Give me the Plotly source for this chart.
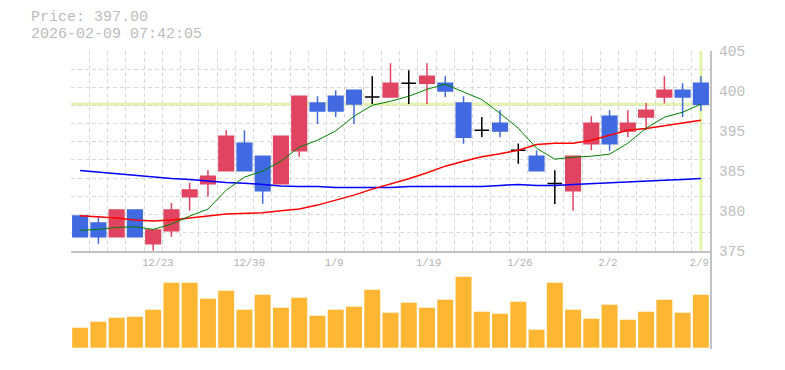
import plotly.graph_objects as go

# ---------------- data ----------------
dates = ["12/17", "12/18", "12/19", "12/22", "12/23", "12/24", "12/25", "12/26", "12/29", "12/30",
         "1/5", "1/6", "1/7", "1/8", "1/9", "1/13", "1/14", "1/15", "1/16", "1/19",
         "1/20", "1/21", "1/22", "1/23", "1/26", "1/27", "1/28", "1/29", "1/30", "2/2",
         "2/3", "2/4", "2/5", "2/6", "2/9"]

opens = [380.2, 379.15, 377.1, 381.1, 376.05, 378.0, 383.1, 385.05, 387.0, 391.15,
         389.2, 385.05, 390.0, 397.2, 398.2, 399.1, 398.1, 398.1, 400.15, 400.15,
         400.15, 397.2, 393.1, 394.15, 390.1, 389.2, 385.1, 384.0, 391.05, 395.2,
         393.0, 395.1, 398.1, 399.1, 400.15]
highs = [380.2, 380.2, 381.1, 381.1, 378.1, 382.15, 385.2, 387.1, 393.1, 393.1,
         389.2, 392.2, 398.2, 398.2, 399.1, 399.1, 401.2, 403.15, 402.1, 403.15,
         401.2, 398.2, 395.1, 396.1, 391.1, 390.1, 387.1, 389.2, 395.2, 396.1,
         396.1, 397.2, 401.2, 400.15, 401.2]
lows = [377.1, 376.05, 377.1, 377.1, 375.0, 377.1, 381.0, 383.1, 387.0, 387.0,
        382.05, 385.05, 389.1, 394.05, 395.1, 394.05, 397.05, 398.1, 397.05, 397.05,
        398.1, 391.05, 392.05, 392.05, 388.05, 387.0, 382.0, 381.0, 390.1, 390.0,
        392.05, 393.1, 397.1, 395.1, 396.0]
closes = [377.1, 377.1, 381.1, 377.1, 378.1, 381.1, 384.1, 386.2, 392.2, 387.0,
          384.0, 392.2, 398.2, 396.0, 396.0, 397.05, 398.1, 400.15, 400.15, 401.2,
          399.0, 392.05, 393.1, 393.0, 390.1, 387.0, 385.1, 389.2, 394.15, 391.05,
          394.15, 396.1, 399.1, 398.1, 397.0]

volume = [20, 26, 30, 31, 38, 65, 65, 49, 57, 38, 53, 40, 50, 32, 38, 41, 58, 35,
          45, 40, 48, 71, 36, 34, 46, 18, 65, 38, 29, 43, 28, 36, 48, 35, 53]

ma_short = [378.05, 378.2, 378.5, 378.6, 378.2, 379.0, 380.2, 381.25, 384.1, 386.05,
            386.95, 388.45, 390.55, 391.6, 393.0, 395.2, 396.85, 397.45, 398.2, 399.25,
            400.0, 398.8, 397.7, 395.65, 393.4, 390.4, 388.75, 389.05, 389.2, 389.5,
            391.15, 393.4, 395.05, 395.8, 397.0]
ma_mid = [380.25, 380.13, 379.9, 379.6, 379.45, 379.6, 379.95, 380.2, 380.5, 380.6,
          380.7, 381.0, 381.25, 381.85, 382.6, 383.35, 384.25, 385.0, 385.8, 386.7,
          387.7, 388.45, 389.1, 389.55, 390.1, 390.95, 391.15, 391.15, 391.6, 392.35,
          393.1, 393.35, 393.75, 394.1, 394.6]
ma_long = [387.06, 386.8, 386.58, 386.35, 386.13, 385.83, 385.68, 385.45, 385.26, 385.15,
           384.93, 384.73, 384.66, 384.66, 384.51, 384.51, 384.51, 384.51, 384.66, 384.66,
           384.66, 384.66, 384.66, 384.81, 384.96, 384.81, 384.81, 384.96, 385.11, 385.2,
           385.3, 385.45, 385.6, 385.7, 385.86]

ytick_vals = [405, 399, 393, 387, 381, 375]
ytick_text = ["405", "400", "395", "385", "380", "375"]
xlabel_dates = ["12/23", "12/30", "1/9", "1/19", "1/26", "2/2", "2/9"]

header_price = "Price: 397.00"
header_time = "2026-02-09 07:42:05"

# ---------------- styling ----------------
MONO = "Liberation Mono"
GRID = "#d9d9d9"
AXLINE = "#c2c2c2"
TXT = "#bcbcbc"
RED = "#e04461"
BLUE = "#4169e1"
HL = "#e3f5a9"

idx = list(range(len(dates)))
n = len(dates)

reg = [i for i in idx if opens[i] != closes[i]]
doji = [i for i in idx if opens[i] == closes[i]]

fig = go.Figure()

# price traces live on the labelled overlay axis y3 (same range as the grid axis y)
fig.add_trace(go.Candlestick(
    x=reg, open=[opens[i] for i in reg], high=[highs[i] for i in reg],
    low=[lows[i] for i in reg], close=[closes[i] for i in reg],
    increasing=dict(line=dict(color=RED, width=1.5), fillcolor=RED),
    decreasing=dict(line=dict(color=BLUE, width=1.5), fillcolor=BLUE),
    xaxis="x", yaxis="y3", hoverinfo="skip", showlegend=False))
fig.add_trace(go.Candlestick(
    x=doji, open=[opens[i] for i in doji], high=[highs[i] for i in doji],
    low=[lows[i] for i in doji], close=[closes[i] for i in doji],
    increasing=dict(line=dict(color="black", width=1.5), fillcolor="black"),
    decreasing=dict(line=dict(color="black", width=1.5), fillcolor="black"),
    xaxis="x", yaxis="y3", hoverinfo="skip", showlegend=False))

fig.add_trace(go.Scatter(x=idx, y=ma_long, mode="lines", line=dict(color="#0000ff", width=1.5),
                         xaxis="x", yaxis="y3", hoverinfo="skip", showlegend=False))
fig.add_trace(go.Scatter(x=idx, y=ma_mid, mode="lines", line=dict(color="#ff0000", width=1.5),
                         xaxis="x", yaxis="y3", hoverinfo="skip", showlegend=False))
fig.add_trace(go.Scatter(x=idx, y=ma_short, mode="lines", line=dict(color="#008000", width=1),
                         xaxis="x", yaxis="y3", hoverinfo="skip", showlegend=False))

# volume on the labelled overlay axis x3
fig.add_trace(go.Bar(x=idx, y=volume, marker=dict(color="#ffb733", line=dict(width=0)),
                     xaxis="x3", yaxis="y2", hoverinfo="skip", showlegend=False))

# current price lines
fig.add_shape(type="line", xref="x domain", x0=0, x1=1, yref="y", y0=closes[-1], y1=closes[-1],
              line=dict(color=HL, width=3), layer="below")
fig.add_shape(type="line", xref="x", x0=idx[-1], x1=idx[-1], yref="y domain", y0=0, y1=1,
              line=dict(color=HL, width=3), layer="below")

split = (349 - 250.7) / 298
xr = [-0.5, n - 0.5]
yr = [375, 405]
dash = "4px,3px"

fig.update_layout(
    width=785, height=370,
    margin=dict(l=71, r=75, t=51, b=21),
    paper_bgcolor="white", plot_bgcolor="white",
    boxgap=0.2, boxgroupgap=0, boxmode="overlay",
    bargap=0.125,
    font=dict(family=MONO, color=TXT),
    xaxis=dict(domain=[0, 1], anchor="y", range=xr, tickmode="linear", tick0=-0.5, dtick=1,
               showticklabels=False, ticks="", showgrid=True, gridcolor=GRID, griddash=dash,
               gridwidth=1, showline=True, linecolor=AXLINE, linewidth=1.5, zeroline=False,
               rangeslider=dict(visible=False), fixedrange=True),
    yaxis=dict(domain=[split, 1], anchor="x", range=yr, tickmode="linear", tick0=375, dtick=30 / 11,
               showticklabels=False, ticks="", showgrid=True, gridcolor=GRID, griddash=dash,
               side="right", showline=True, linecolor=AXLINE, linewidth=1.5, zeroline=False),
    yaxis3=dict(overlaying="y", anchor="x", side="right", range=yr, tickmode="array",
                tickvals=ytick_vals, ticktext=ytick_text, showgrid=False, showline=False,
                zeroline=False, ticks="", tickfont=dict(family=MONO, size=14.5, color=TXT),
                ticklabelstandoff=8),
    xaxis2=dict(domain=[0, 1], anchor="y2", range=xr, tickmode="linear", tick0=-0.5, dtick=1,
                showticklabels=False, ticks="", showgrid=True, gridcolor=GRID, griddash=dash,
                showline=True, linecolor=AXLINE, linewidth=1.5, zeroline=False),
    yaxis2=dict(domain=[0, split], anchor="x2", range=[-1.3, 97], showgrid=False,
                showticklabels=False, ticks="", side="right", showline=True, linecolor=AXLINE,
                linewidth=1.5, zeroline=False),
    xaxis3=dict(overlaying="x2", anchor="y2", side="top", range=xr, tickmode="array",
                tickvals=[dates.index(d) for d in xlabel_dates],
                ticktext=xlabel_dates,
                ticklabelposition="inside right", ticklabelshift=-11, ticklabelstandoff=2,
                showgrid=False, showline=False,
                zeroline=False, ticks="", tickfont=dict(family=MONO, size=10.5, color="#b0b0b0")),
    annotations=[
        dict(text=header_price, xref="paper", yref="paper", x=(29.3 - 71) / 639, y=1 + (51 - 17.3) / 298,
             xanchor="left", yanchor="middle", showarrow=False,
             font=dict(family=MONO, size=15, color=TXT)),
        dict(text=header_time, xref="paper", yref="paper", x=(29.3 - 71) / 639, y=1 + (51 - 34.3) / 298,
             xanchor="left", yanchor="middle", showarrow=False,
             font=dict(family=MONO, size=15, color=TXT)),
    ],
)

fig.write_html("out.html")
